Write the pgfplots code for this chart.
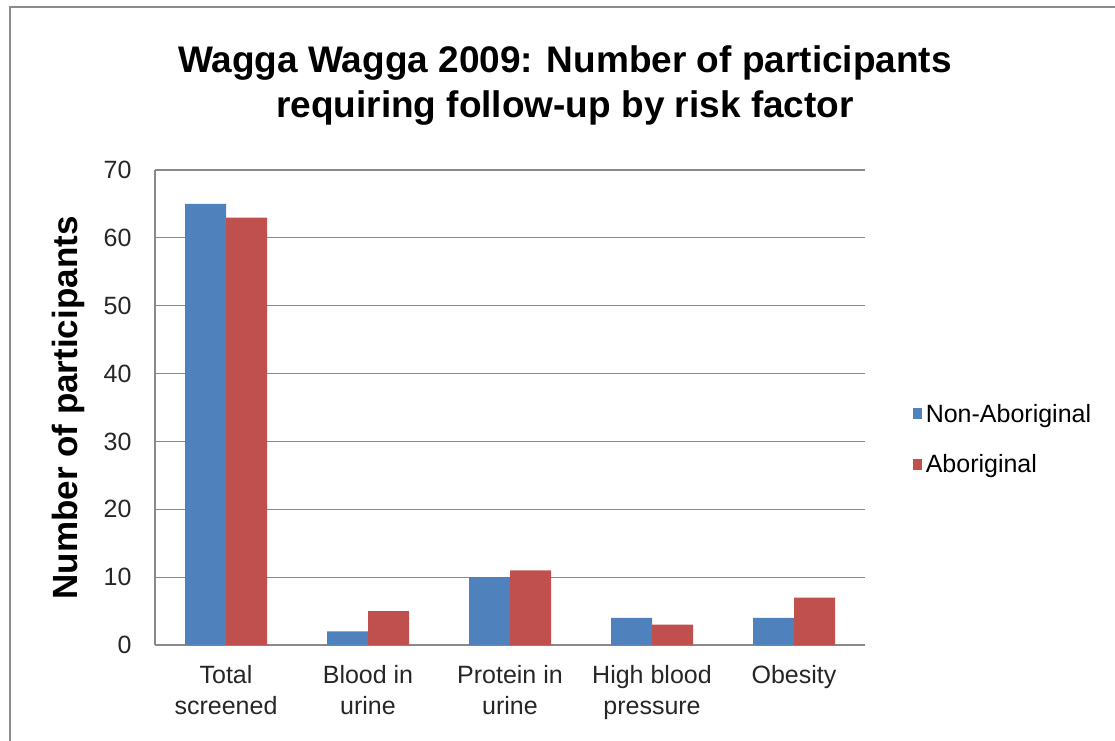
\documentclass[border=0pt]{standalone}
\usepackage{fontspec}
\setmainfont{Liberation Sans}
\usepackage{pgfplots}
\pgfplotsset{compat=1.18}
\definecolor{cblue}{HTML}{4F81BD}
\definecolor{cred}{HTML}{C0504D}
\definecolor{gridgray}{HTML}{898989}
\definecolor{framegray}{HTML}{8C8C8C}
\begin{document}
\begin{tikzpicture}[x=1pt,y=1pt]
\useasboundingbox (0,0) rectangle (1115,740);
\begin{scope}
\clip (0,0) rectangle (1115,740);
\draw[framegray, line width=2.5pt] (10,-20) -- (10,733) -- (1140,733);
\end{scope}
\node[font=\bfseries\fontsize{37}{45}\selectfont, align=center] at (565,654) {Wagga Wagga 2009: Number of participants\\requiring follow-up by risk factor};
\node[font=\bfseries\fontsize{35}{40}\selectfont, rotate=90] at (68,332) {Number of participants};
\begin{axis}[
  at={(155pt,95pt)}, anchor=south west,
  scale only axis, width=710pt, height=475pt,
  ymin=0, ymax=70, ytick={0,10,...,70},
  xmin=-0.5, xmax=4.5,
  xtick={0,1,2,3,4},
  xticklabels={Total\\screened, Blood in\\urine, Protein in\\urine, High blood\\pressure, Obesity},
  ybar=0pt, bar width=41pt,
  axis x line*=bottom, axis y line*=left,
  axis line style={draw=gridgray, line width=1.2pt, -},
  major tick length=0pt,
  ymajorgrids, grid style={draw=gridgray, line width=1.2pt},
  /pgf/number format/assume math mode=true,
  ticklabel style={font=\fontsize{25}{31}\selectfont, text=black!85},
  xticklabel style={align=center, yshift=-17pt},
  yticklabel style={xshift=-20pt},
  legend style={draw=none, fill=none, at={(1.067,0.516)}, anchor=north west,
    font=\fontsize{25}{28}\selectfont, row sep=23pt, inner sep=0pt,
    legend cell align=left, nodes={inner sep=4pt}},
  legend image code/.code={\fill[#1] (0pt,-5pt) rectangle (9pt,6pt);},
]
\addplot[fill=cblue, draw=none] coordinates {(0,65) (1,2) (2,10) (3,4) (4,4)};
\addplot[fill=cred, draw=none] coordinates {(0,63) (1,5) (2,11) (3,3) (4,7)};
\legend{Non-Aboriginal, Aboriginal}
\end{axis}
\end{tikzpicture}
\end{document}
